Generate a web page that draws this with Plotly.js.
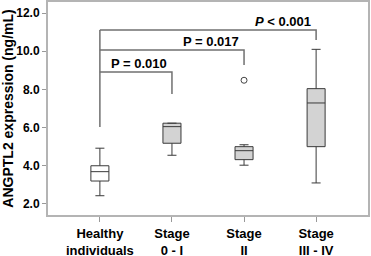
<!DOCTYPE html>
<html><head><meta charset="utf-8">
<script src="https://cdn.plot.ly/plotly-3.0.1.min.js"></script>
<style>html,body{margin:0;padding:0;background:#fff}#chart{width:371px;height:256px}</style>
</head><body><div id="chart"></div>
<script>
const categories = ["Healthy<br>individuals", "Stage<br>0 - I", "Stage<br>II", "Stage<br>III - IV"];
const positions = [0, 1, 2, 3];
const lowerFence = [2.43, 4.55, 4.03, 3.10];
const q1 = [3.20, 5.18, 4.32, 5.00];
const median = [3.69, 6.05, 4.79, 7.29];
const q3 = [4.00, 6.23, 5.00, 8.04];
const upperFence = [4.92, 6.23, 5.10, 10.10];
const fills = ["#ffffff", "#d3d3d3", "#d3d3d3", "#d3d3d3"];
const outlierGroup = [2];
const outlierValue = [8.48];
const bracketLabels = ["P = 0.010", "P = 0.017", "<i>P</i> < 0.001"];
const bracketTarget = [1, 2, 3];
const bracketTop = [8.91, 10.06, 11.11];
const bracketEnd = [7.76, 9.28, 10.59];
const bracketStart = 6.03;
const yTicks = [2, 4, 6, 8, 10, 12];

const traces = [];
for (let i = 0; i < positions.length; i++) {
  traces.push({
    type: 'box', x: [positions[i]],
    q1: [q1[i]], median: [median[i]], q3: [q3[i]],
    lowerfence: [lowerFence[i]], upperfence: [upperFence[i]],
    width: 0.25, whiskerwidth: 0.5,
    fillcolor: fills[i], line: {color: '#3a3a3a', width: 1},
    boxpoints: false, hoverinfo: 'skip', showlegend: false
  });
}
traces.push({
  type: 'scatter', mode: 'markers', x: outlierGroup, y: outlierValue,
  marker: {symbol: 'circle-open', size: 6, color: '#444', line: {width: 1, color: '#444'}},
  showlegend: false, hoverinfo: 'skip'
});
const maxTop = Math.max(...bracketTop);
traces.push({type: 'scatter', mode: 'lines', x: [0, 0], y: [bracketStart, maxTop],
  line: {color: '#707070', width: 1.5}, showlegend: false, hoverinfo: 'skip'});
for (let k = 0; k < bracketTarget.length; k++) {
  traces.push({type: 'scatter', mode: 'lines',
    x: [0, bracketTarget[k], bracketTarget[k]],
    y: [bracketTop[k], bracketTop[k], bracketEnd[k]],
    line: {color: '#707070', width: 1.5}, showlegend: false, hoverinfo: 'skip'});
}
const annotations = bracketLabels.map((t, k) => ({
  text: t, x: bracketTarget[k] - 0.46, y: bracketTop[k], xref: 'x', yref: 'y',
  xanchor: 'center', yanchor: 'bottom', showarrow: false, yshift: -1,
  font: {family: 'Liberation Sans, Arial, sans-serif', size: 13, color: '#000', weight: 'bold'}
}));

const layout = {
  width: 371, height: 256,
  margin: {l: 48, r: 3, t: 2, b: 41},
  paper_bgcolor: '#fff', plot_bgcolor: '#fff',
  font: {family: 'Liberation Sans, Arial, sans-serif', color: '#000'},
  xaxis: {
    range: [-0.72, 3.72], tickvals: positions, ticktext: categories,
    showgrid: false, zeroline: false, showline: true, mirror: true,
    linecolor: '#b4b4b4', linewidth: 2, ticks: 'outside', ticklen: 5, tickcolor: '#999',
    tickfont: {size: 13, weight: 'bold', color: '#000'}
  },
  yaxis: {
    range: [1.42, 12.58], tickvals: yTicks, tickformat: '.1f',
    showgrid: false, zeroline: false, showline: true, mirror: true,
    linecolor: '#b4b4b4', linewidth: 2, ticks: 'outside', ticklen: 4, tickcolor: '#999',
    tickfont: {size: 12, weight: 'bold', color: '#000'},
    title: {text: 'ANGPTL2 expression (ng/mL)', standoff: 3,
      font: {size: 14, weight: 'bold', color: '#000'}}
  },
  annotations: annotations
};
Plotly.newPlot('chart', traces, layout, {displayModeBar: false, staticPlot: true});
</script></body></html>
